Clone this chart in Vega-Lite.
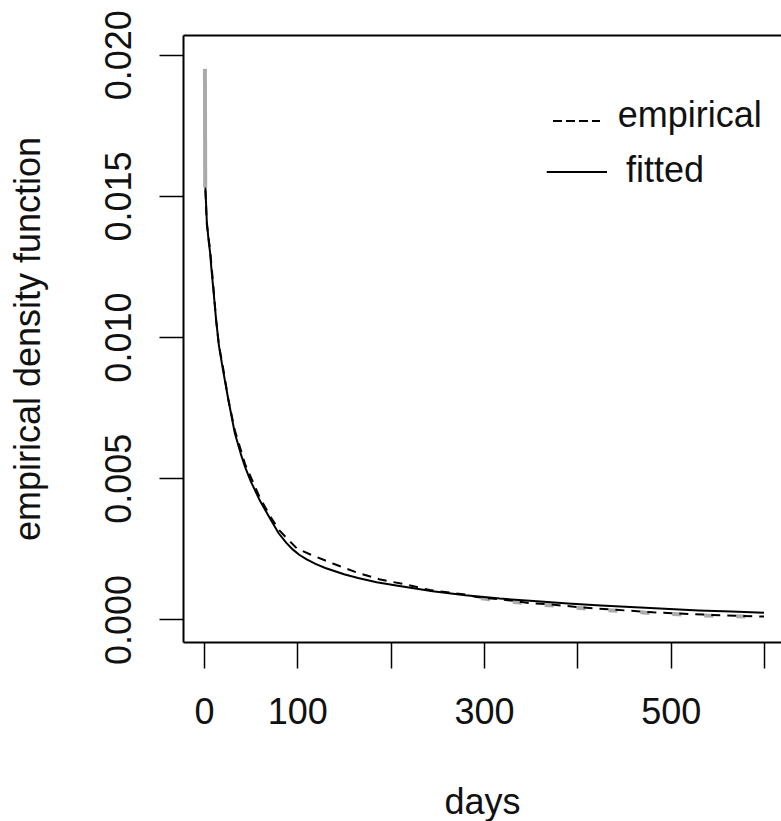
{
  "$schema": "https://vega.github.io/schema/vega-lite/v6.json",
  "width": 598,
  "height": 607,
  "autosize": "none",
  "padding": {"left": 183, "top": 35, "right": 0, "bottom": 179},
  "background": "white",
  "config": {
    "view": {"stroke": null},
    "font": "Liberation Sans",
    "axis": {
      "grid": false,
      "domainColor": "#000",
      "domainWidth": 2,
      "tickColor": "#000",
      "tickWidth": 1.5,
      "labelColor": "#111",
      "labelFont": "Liberation Sans",
      "labelFontSize": 36,
      "titleColor": "#111",
      "titleFont": "Liberation Sans",
      "titleFontSize": 36,
      "titleFontWeight": "normal",
      "labelFlush": false,
      "labelOverlap": false,
      "labelBound": false
    }
  },
  "datasets": {
    "curves": [
      {"series": "g0", "day": 1.0, "value": 0.0195},
      {"series": "g0", "day": 1.3, "value": 0.0153},
      {"series": "f", "day": 1.5, "value": 0.0153},
      {"series": "f", "day": 2, "value": 0.0149},
      {"series": "f", "day": 3, "value": 0.0141},
      {"series": "f", "day": 5, "value": 0.0134},
      {"series": "f", "day": 6.5, "value": 0.0130},
      {"series": "f", "day": 8, "value": 0.0124},
      {"series": "f", "day": 10, "value": 0.0117},
      {"series": "f", "day": 13, "value": 0.0106},
      {"series": "f", "day": 16, "value": 0.0097},
      {"series": "f", "day": 20, "value": 0.0089},
      {"series": "f", "day": 26, "value": 0.0078},
      {"series": "f", "day": 33, "value": 0.0066},
      {"series": "f", "day": 40, "value": 0.0058},
      {"series": "f", "day": 44, "value": 0.0054},
      {"series": "f", "day": 50, "value": 0.0049},
      {"series": "f", "day": 60, "value": 0.0042},
      {"series": "f", "day": 72, "value": 0.0035},
      {"series": "f", "day": 80, "value": 0.00305},
      {"series": "f", "day": 88, "value": 0.00272},
      {"series": "f", "day": 95, "value": 0.00248},
      {"series": "f", "day": 102, "value": 0.00229},
      {"series": "f", "day": 110, "value": 0.00213},
      {"series": "f", "day": 120, "value": 0.00196},
      {"series": "f", "day": 130, "value": 0.00182},
      {"series": "f", "day": 150, "value": 0.0016},
      {"series": "f", "day": 165, "value": 0.00147},
      {"series": "f", "day": 185, "value": 0.00132},
      {"series": "f", "day": 206, "value": 0.0012},
      {"series": "f", "day": 245, "value": 0.001},
      {"series": "f", "day": 280, "value": 0.00086},
      {"series": "f", "day": 317, "value": 0.00074},
      {"series": "f", "day": 353, "value": 0.00065},
      {"series": "f", "day": 390, "value": 0.00056},
      {"series": "f", "day": 425, "value": 0.00049},
      {"series": "f", "day": 478, "value": 0.0004},
      {"series": "f", "day": 530, "value": 0.00032},
      {"series": "f", "day": 565, "value": 0.00028},
      {"series": "f", "day": 600, "value": 0.00024},
      {"series": "e", "day": 1.5, "value": 0.0152},
      {"series": "e", "day": 2, "value": 0.0148},
      {"series": "e", "day": 3, "value": 0.0140},
      {"series": "e", "day": 6.5, "value": 0.0131},
      {"series": "e", "day": 10, "value": 0.0118},
      {"series": "e", "day": 13, "value": 0.0106},
      {"series": "e", "day": 16, "value": 0.0097},
      {"series": "e", "day": 20, "value": 0.0090},
      {"series": "e", "day": 26, "value": 0.0078},
      {"series": "e", "day": 33, "value": 0.0067},
      {"series": "e", "day": 44, "value": 0.0055},
      {"series": "e", "day": 60, "value": 0.0043},
      {"series": "e", "day": 72, "value": 0.0036},
      {"series": "e", "day": 80, "value": 0.00318},
      {"series": "e", "day": 88, "value": 0.0029},
      {"series": "e", "day": 100, "value": 0.0025},
      {"series": "e", "day": 114, "value": 0.0023},
      {"series": "e", "day": 138, "value": 0.00198},
      {"series": "e", "day": 164, "value": 0.00166},
      {"series": "e", "day": 189, "value": 0.00141},
      {"series": "e", "day": 214, "value": 0.00125},
      {"series": "e", "day": 242, "value": 0.00104},
      {"series": "e", "day": 280, "value": 0.00088},
      {"series": "e", "day": 292, "value": 0.00079},
      {"series": "e", "day": 321, "value": 0.0007},
      {"series": "e", "day": 349, "value": 0.00058},
      {"series": "e", "day": 375, "value": 0.00052},
      {"series": "e", "day": 399, "value": 0.00044},
      {"series": "e", "day": 428, "value": 0.00037},
      {"series": "e", "day": 455, "value": 0.00031},
      {"series": "e", "day": 481, "value": 0.00025},
      {"series": "e", "day": 508, "value": 0.00021},
      {"series": "e", "day": 535, "value": 0.00017},
      {"series": "e", "day": 560, "value": 0.00014},
      {"series": "e", "day": 588, "value": 0.00011},
      {"series": "e", "day": 600, "value": 0.0001},
      {"series": "gd", "day": 280, "value": 0.00085},
      {"series": "gd", "day": 292, "value": 0.00076},
      {"series": "gd", "day": 321, "value": 0.00067},
      {"series": "gd", "day": 349, "value": 0.00055},
      {"series": "gd", "day": 375, "value": 0.00049},
      {"series": "gd", "day": 399, "value": 0.00041},
      {"series": "gd", "day": 428, "value": 0.00034},
      {"series": "gd", "day": 455, "value": 0.00028},
      {"series": "gd", "day": 481, "value": 0.00022},
      {"series": "gd", "day": 508, "value": 0.00018},
      {"series": "gd", "day": 535, "value": 0.00014},
      {"series": "gd", "day": 560, "value": 0.00012},
      {"series": "gd", "day": 588, "value": 0.0001},
      {"series": "gd", "day": 600, "value": 0.0001}
    ],
    "legendLines": [
      {"kind": "dash", "day": 373.9, "day2": 424.3, "value": 0.01765},
      {"kind": "solid", "day": 367.2, "day2": 431.8, "value": 0.01585}
    ],
    "legendText": [
      {"label": "empirical", "day": 443.2, "value": 0.01744},
      {"label": "fitted", "day": 452.2, "value": 0.01549}
    ]
  },
  "resolve": {"axis": {"x": "independent"}},
  "layer": [
    {
      "data": {"name": "curves"},
      "transform": [{"filter": "datum.series == 'g0'"}],
      "mark": {"type": "line", "color": "#aaaaaa", "strokeWidth": 4},
      "encoding": {
        "x": {"field": "day", "type": "quantitative", "scale": {"domain": [-22.5, 618.2], "nice": false, "zero": false}, "axis": null},
        "y": {
          "field": "value", "type": "quantitative",
          "scale": {"domain": [-0.0008, 0.0207], "nice": false, "zero": false},
          "axis": {
            "orient": "left",
            "values": [0, 0.005, 0.01, 0.015, 0.02],
            "format": ".3f",
            "tickSize": 24,
            "labelAngle": -90,
            "labelAlign": "center",
            "labelBaseline": "alphabetic",
            "labelPadding": 28.3,
            "title": "empirical density function",
            "titleAngle": -90,
            "titleBaseline": "alphabetic",
            "titleX": -143.7,
            "titleY": 303.5
          }
        }
      }
    },
    {
      "data": {"name": "curves"},
      "transform": [{"filter": "datum.series == 'gd'"}],
      "mark": {"type": "line", "color": "#aaaaaa", "strokeWidth": 4, "strokeDash": [9, 23], "strokeDashOffset": 16},
      "encoding": {
        "x": {"field": "day", "type": "quantitative", "axis": null},
        "y": {"field": "value", "type": "quantitative"}
      }
    },
    {
      "data": {"name": "curves"},
      "transform": [{"filter": "datum.series == 'e'"}],
      "mark": {"type": "line", "color": "#000000", "strokeWidth": 2, "strokeDash": [9, 7]},
      "encoding": {
        "x": {"field": "day", "type": "quantitative", "axis": null},
        "y": {"field": "value", "type": "quantitative"}
      }
    },
    {
      "data": {"name": "curves"},
      "transform": [{"filter": "datum.series == 'f'"}],
      "mark": {"type": "line", "color": "#000000", "strokeWidth": 2},
      "encoding": {
        "x": {
          "field": "day", "type": "quantitative",
          "axis": {
            "orient": "bottom",
            "values": [0, 100, 200, 300, 400, 500, 600],
            "labelExpr": "(datum.value == 200 || datum.value == 400 || datum.value == 600) ? '' : datum.label",
            "tickSize": 26,
            "labelPadding": 55,
            "labelBaseline": "alphabetic",
            "title": "days",
            "titleBaseline": "alphabetic",
            "titleY": 171
          }
        },
        "y": {"field": "value", "type": "quantitative"}
      }
    },
    {
      "data": {"name": "legendLines"},
      "mark": {"type": "rule", "color": "#000000", "strokeWidth": 2},
      "encoding": {
        "x": {"field": "day", "type": "quantitative", "axis": null},
        "x2": {"field": "day2"},
        "y": {"field": "value", "type": "quantitative"},
        "strokeDash": {"field": "kind", "type": "nominal", "scale": {"domain": ["dash", "solid"], "range": [[9, 4], [1, 0]]}, "legend": null}
      }
    },
    {
      "data": {"name": "legendText"},
      "mark": {"type": "text", "align": "left", "baseline": "alphabetic", "fontSize": 36, "font": "Liberation Sans", "color": "#111"},
      "encoding": {
        "x": {"field": "day", "type": "quantitative", "axis": {"orient": "top", "ticks": false, "labels": false, "title": null, "domain": true}},
        "y": {"field": "value", "type": "quantitative"},
        "text": {"field": "label"}
      }
    }
  ]
}
